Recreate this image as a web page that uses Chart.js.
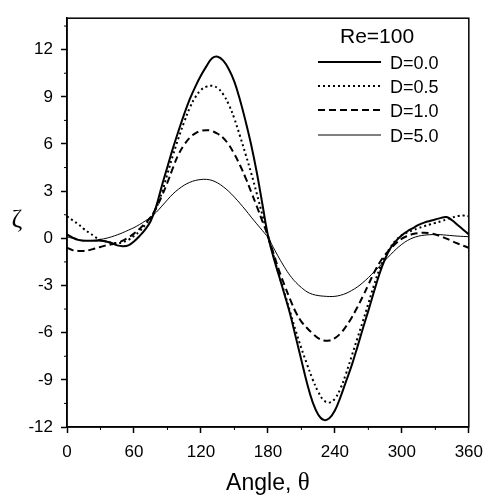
<!DOCTYPE html>
<html><head><meta charset="utf-8">
<script src="https://cdn.jsdelivr.net/npm/chart.js@4.4.0/dist/chart.umd.min.js"></script>
<style>html,body{margin:0;padding:0;background:#fff;}</style>
</head><body>
<canvas id="c" width="492" height="495"></canvas>
<script>
const angles = [0,5,10,15,20,25,30,35,40,45,50,55,60,65,70,75,80,85,90,95,100,105,110,115,120,125,130,135,140,145,150,155,160,165,170,175,180,185,190,195,200,205,210,215,220,225,230,235,240,245,250,255,260,265,270,275,280,285,290,295,300,305,310,315,320,325,330,335,340,345,350,355,360];
const d00 = [0.25,0.05,-0.1,-0.15,-0.15,-0.15,-0.15,-0.2,-0.3,-0.45,-0.5,-0.45,-0.2,0.15,0.55,1.1,2.05,3.35,4.55,5.75,6.85,7.9,8.85,9.65,10.35,10.95,11.45,11.55,11.3,10.75,9.95,8.8,7.45,5.95,4.2,2.2,0.2,-1.2,-2.4,-3.6,-4.85,-6.3,-7.75,-9.2,-10.4,-11.2,-11.55,-11.45,-10.95,-10.1,-9.1,-8.1,-6.95,-5.75,-4.6,-3.4,-2.25,-1.3,-0.6,-0.15,0.2,0.45,0.65,0.85,1.0,1.1,1.2,1.3,1.35,1.15,0.85,0.55,0.25];
const d05 = [1.4,1.15,0.9,0.6,0.35,0.1,-0.1,-0.2,-0.28,-0.3,-0.25,-0.1,0.15,0.45,0.85,1.3,1.95,2.9,4.1,5.3,6.4,7.4,8.3,8.98,9.43,9.65,9.7,9.55,9.15,8.5,7.6,6.5,5.35,4.15,2.85,1.5,0.15,-1.1,-2.35,-3.5,-4.7,-5.9,-7.0,-8.0,-8.95,-9.75,-10.3,-10.45,-10.2,-9.55,-8.6,-7.5,-6.4,-5.3,-4.15,-3.0,-1.95,-1.15,-0.55,-0.1,0.2,0.38,0.52,0.65,0.77,0.88,0.98,1.08,1.2,1.32,1.42,1.45,1.4];
const d10 = [-0.6,-0.75,-0.8,-0.8,-0.75,-0.65,-0.55,-0.45,-0.38,-0.3,-0.15,0.05,0.3,0.6,0.95,1.35,1.95,2.7,3.55,4.5,5.35,5.95,6.4,6.68,6.83,6.88,6.82,6.65,6.38,5.95,5.35,4.65,3.85,2.95,2.05,1.1,0.15,-0.95,-2.05,-3.0,-3.9,-4.7,-5.3,-5.7,-6.05,-6.35,-6.5,-6.5,-6.35,-6.05,-5.6,-5.05,-4.4,-3.7,-2.95,-2.2,-1.55,-1.05,-0.65,-0.3,-0.02,0.15,0.27,0.33,0.35,0.32,0.24,0.12,-0.02,-0.18,-0.33,-0.47,-0.6];
const d50 = [0.1,0.0,-0.08,-0.13,-0.14,-0.12,-0.07,0.0,0.1,0.22,0.36,0.52,0.68,0.88,1.1,1.35,1.66,2.05,2.45,2.83,3.13,3.38,3.56,3.68,3.74,3.75,3.68,3.52,3.28,2.98,2.62,2.22,1.8,1.35,0.92,0.5,0.05,-0.6,-1.25,-1.85,-2.38,-2.8,-3.13,-3.4,-3.56,-3.64,-3.68,-3.7,-3.69,-3.62,-3.5,-3.32,-3.1,-2.82,-2.5,-2.14,-1.78,-1.4,-1.03,-0.68,-0.38,-0.14,0.03,0.14,0.2,0.23,0.24,0.23,0.2,0.17,0.14,0.12,0.1];
const seriesLabels = ['D=0.0','D=0.5','D=1.0','D=5.0'];
const legendTitle = 'Re=100';
const xTicks = [0,60,120,180,240,300,360];
const xMinor = [30,90,150,210,270,330];
const yTicks = [-12,-9,-6,-3,0,3,6,9,12];
const yMinor = [-10.5,-7.5,-4.5,-1.5,1.5,4.5,7.5,10.5,13.5];
const xTitle = 'Angle, ';
const xTitleSym = 'θ';
const yTitle = 'ζ';

const styles = [
  {borderWidth:2, borderDash:[]},
  {borderWidth:2, borderDash:[2,3]},
  {borderWidth:2, borderDash:[7,4]},
  {borderWidth:1, borderDash:[]}
];
const series = [d00,d05,d10,d50];
const datasets = series.map((s,i)=>({
  label: seriesLabels[i],
  data: angles.map((a,j)=>({x:a,y:s[j]})),
  borderColor:'#000',
  borderWidth: styles[i].borderWidth,
  borderDash: styles[i].borderDash,
  pointRadius:0,
  tension:0.4,
  fill:false
}));

const sans = "'Liberation Sans', Arial, sans-serif";
const serif = "'Liberation Serif', 'Times New Roman', serif";

const decor = {
  id:'decor',
  afterDraw(chart){
    const ctx = chart.ctx, a = chart.chartArea;
    const xs = chart.scales.x, ys = chart.scales.y;
    ctx.save();
    ctx.strokeStyle = '#000';
    ctx.lineWidth = 1.5;
    ctx.setLineDash([]);
    ctx.strokeRect(a.left, a.top, a.right-a.left, a.bottom-a.top);
    ctx.lineWidth = 1;
    ctx.beginPath();
    xMinor.forEach(v=>{const p = xs.getPixelForValue(v); ctx.moveTo(p,a.bottom); ctx.lineTo(p,a.bottom+3);});
    yMinor.forEach(v=>{const p = ys.getPixelForValue(v); ctx.moveTo(a.left,p); ctx.lineTo(a.left-3,p);});
    ctx.stroke();
    // legend
    ctx.fillStyle = '#000';
    ctx.textBaseline = 'alphabetic';
    ctx.textAlign = 'left';
    ctx.font = "21px " + sans;
    ctx.fillText(legendTitle, 340, 43);
    ctx.font = "18px " + sans;
    const rows = [62,86,110,135];
    chart.data.datasets.forEach((ds,i)=>{
      const y = rows[i];
      ctx.beginPath();
      ctx.lineWidth = ds.borderWidth;
      ctx.setLineDash(ds.borderDash);
      ctx.moveTo(318,y); ctx.lineTo(381,y);
      ctx.stroke();
      ctx.setLineDash([]);
      ctx.fillText(ds.label, 390, y+6.5);
    });
    // axis titles
    ctx.font = "23px " + sans;
    const w1 = ctx.measureText(xTitle).width;
    ctx.font = "25px " + serif;
    const w2 = ctx.measureText(xTitleSym).width;
    const cx = (a.left+a.right)/2;
    let x0 = cx - (w1+w2)/2;
    ctx.font = "23px " + sans;
    ctx.fillText(xTitle, x0, 490);
    ctx.font = "25px " + serif;
    ctx.fillText(xTitleSym, x0+w1, 490);
    ctx.font = "26px " + serif;
    ctx.textAlign = 'center';
    ctx.fillText(yTitle, 17, 227);
    ctx.restore();
  }
};

new Chart(document.getElementById('c'), {
  type:'line',
  data:{datasets},
  options:{
    responsive:false,
    devicePixelRatio:1,
    animation:false,
    layout:{padding:{top:11,right:19,left:0,bottom:0}},
    plugins:{legend:{display:false}, tooltip:{enabled:false}},
    scales:{
      x:{
        type:'linear', min:0, max:360,
        afterBuildTicks:s=>{s.ticks = xTicks.map(v=>({value:v}));},
        afterFit:s=>{s.height = 68;},
        ticks:{color:'#000', font:{family:sans, size:17}, padding:9, maxRotation:0, autoSkip:false},
        grid:{drawOnChartArea:false, tickLength:6, tickColor:'#000', tickWidth:1.5},
        border:{color:'#000', width:1.5}
      },
      y:{
        type:'linear', min:-12, max:14,
        afterBuildTicks:s=>{s.ticks = yTicks.map(v=>({value:v}));},
        afterFit:s=>{s.width = 67;},
        ticks:{color:'#000', font:{family:sans, size:17}, padding:8, autoSkip:false},
        grid:{drawOnChartArea:false, tickLength:6, tickColor:'#000', tickWidth:1.5},
        border:{color:'#000', width:1.5}
      }
    }
  },
  plugins:[decor]
});
</script>
</body></html>
